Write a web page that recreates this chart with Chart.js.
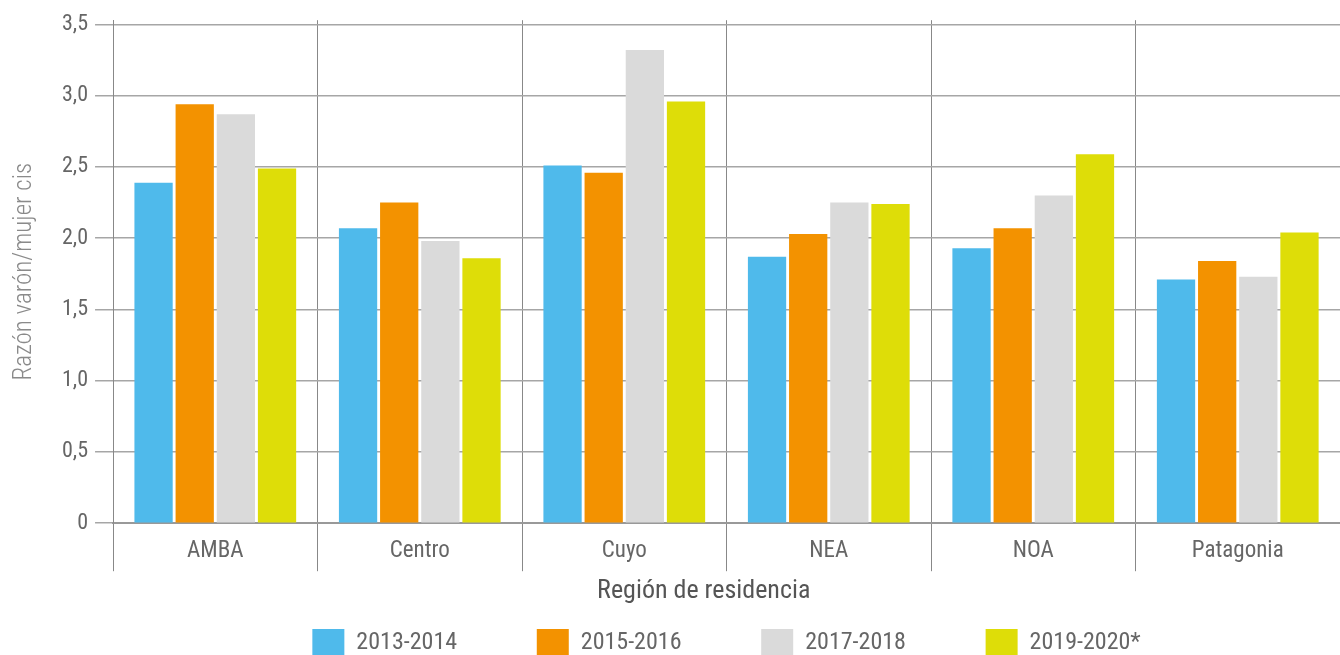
<!DOCTYPE html>
<html>
<head>
<meta charset="utf-8">
<script src="https://cdn.jsdelivr.net/npm/chart.js@4.4.0/dist/chart.umd.min.js"></script>
<style>
  html, body { margin: 0; padding: 0; background: #fff; }
  #wrap { width: 1340px; height: 655px; }
</style>
</head>
<body>
<div id="wrap"><canvas id="chart"></canvas></div>
<script>
const regions = ["AMBA", "Centro", "Cuyo", "NEA", "NOA", "Patagonia"];
const periods = ["2013-2014", "2015-2016", "2017-2018", "2019-2020*"];

const v2013 = [2.39, 2.07, 2.51, 1.87, 1.93, 1.71];
const v2015 = [2.94, 2.25, 2.46, 2.03, 2.07, 1.84];
const v2017 = [2.87, 1.98, 3.32, 2.25, 2.30, 1.73];
const v2019 = [2.49, 1.86, 2.96, 2.24, 2.59, 2.04];

const colors = ["#4FBAEB", "#F39200", "#DADADA", "#DEDD08"];
const family = "'Roboto Condensed', 'Roboto', sans-serif";

const ctx = document.getElementById("chart").getContext("2d");

new Chart(ctx, {
  type: "bar",
  data: {
    labels: regions,
    datasets: [v2013, v2015, v2017, v2019].map((d, i) => ({
      label: periods[i],
      data: d,
      backgroundColor: colors[i],
      borderWidth: 0,
      categoryPercentage: 0.805,
      barPercentage: 0.93
    }))
  },
  options: {
    responsive: true,
    maintainAspectRatio: false,
    animation: false,
    layout: { padding: { top: 10, right: -3, left: 0, bottom: -11 } },
    plugins: {
      legend: {
        position: "bottom",
        fullSize: false,
        labels: {
          boxWidth: 32,
          boxHeight: 27,
          padding: 12,
          color: "#666",
          font: { family, size: 24, weight: "400 condensed" },
          // extra room between the entries (not after the last one)
          generateLabels: chart => Chart.defaults.plugins.legend.labels.generateLabels(chart)
            .map((l, i, all) => ({ ...l, text: i < all.length - 1 ? l.text + "\u2003\u2003\u2003\u2009" : l.text }))
        }
      },
      tooltip: { enabled: false }
    },
    scales: {
      x: {
        grid: { offset: true, color: "#888", lineWidth: 1, tickLength: 48 },
        border: { display: true, color: "#999", width: 2 },
        ticks: { color: "#666", padding: -34, font: { family, size: 23, weight: "400 condensed" } },
        title: { display: true, text: "Región de residencia\u2003\u2003", color: "#555",
                 padding: { top: 45, bottom: 10 }, font: { family, size: 26, weight: "400 condensed" } }
      },
      y: {
        min: 0,
        max: 3.53,
        grid: { color: "#a6a6a6", lineWidth: 1.5, tickLength: 18 },
        border: { display: true, color: "#888", width: 1 },
        ticks: {
          stepSize: 0.5,
          includeBounds: false,
          color: "#666",
          padding: 7,
          font: { family, size: 22, weight: "400 condensed" },
          callback: v => v === 0 ? "0" : v.toFixed(1).replace(".", ",")
        },
        title: { display: true, text: "Razón varón/mujer cis", color: "#8a8a8a",
                 padding: { top: 10, bottom: 15 }, font: { family, size: 25, weight: "300 condensed" } }
      }
    }
  }
});
</script>
</body>
</html>
